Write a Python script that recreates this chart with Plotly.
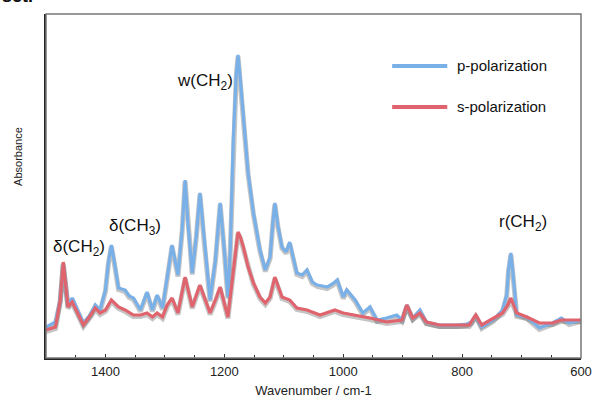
import plotly.graph_objects as go

# Wavenumbers (cm-1) and absorbance (arbitrary units)
wn_p = [1500, 1484, 1476, 1471, 1466, 1463, 1456, 1447, 1437, 1426, 1417, 1409, 1400, 1395, 1390,
        1385, 1378, 1367, 1360, 1353, 1341, 1330, 1321, 1313, 1304, 1296, 1288, 1278, 1271, 1266,
        1261, 1254, 1247, 1241, 1234, 1224, 1215, 1207, 1200, 1194, 1190, 1185, 1180, 1177, 1173,
        1168, 1160, 1151, 1140, 1131, 1123, 1118, 1115, 1110, 1103, 1096, 1090, 1085, 1078, 1069,
        1061, 1052, 1044, 1035, 1027, 1018, 1010, 1000, 994, 980, 967, 955, 943, 927, 910,
        901, 893, 883, 871, 860, 838, 809, 792, 784, 777, 767, 748, 732, 725, 722,
        718, 715, 711, 708, 691, 670, 648, 633, 620, 600]
abs_p = [31, 36, 58, 94, 68, 53, 60, 48, 35, 43, 53, 48, 68, 96, 113,
         96, 70, 68, 62, 60, 48, 66, 48, 63, 50, 81, 113, 83, 128, 178,
         133, 85, 123, 165, 118, 58, 98, 155, 108, 61, 108, 218, 283, 303, 278,
         241, 185, 145, 108, 88, 101, 138, 155, 133, 111, 106, 116, 103, 85, 83,
         88, 76, 73, 72, 71, 74, 78, 61, 68, 58, 45, 51, 38, 40, 43,
         38, 53, 40, 48, 36, 33, 33, 34, 36, 43, 31, 38, 48, 63, 88,
         105, 88, 58, 43, 41, 30, 35, 40, 35, 38]

wn_s = [1500, 1484, 1476, 1471, 1466, 1463, 1456, 1447, 1437, 1426, 1417, 1409, 1400, 1390, 1378,
        1367, 1353, 1341, 1330, 1321, 1313, 1304, 1296, 1288, 1278, 1266, 1254, 1241, 1224, 1215,
        1207, 1194, 1185, 1180, 1177, 1173, 1168, 1160, 1151, 1140, 1131, 1123, 1115, 1103, 1090,
        1078, 1061, 1039, 1014, 1000, 980, 955, 927, 901, 893, 883, 871, 860, 838, 788,
        777, 767, 732, 723, 718, 713, 708, 691, 670, 648, 633, 600]
abs_s = [28, 31, 58, 96, 68, 51, 56, 45, 33, 42, 50, 45, 48, 58, 51,
         48, 43, 43, 45, 41, 45, 41, 53, 60, 45, 81, 51, 73, 45, 58,
         71, 41, 85, 113, 126, 121, 111, 91, 75, 61, 55, 61, 81, 61, 58,
         50, 48, 43, 48, 45, 43, 40, 36, 38, 53, 40, 45, 36, 33, 33,
         43, 33, 45, 53, 60, 53, 45, 41, 35, 35, 38, 38]

series_names = ["p-polarization", "s-polarization"]
x_ticks = [1400, 1200, 1000, 800, 600]

peak_labels = ["δ(CH<sub>2</sub>)", "δ(CH<sub>3</sub>)", "w(CH<sub>2</sub>)", "r(CH<sub>2</sub>)"]
peak_wn = [1444, 1350, 1232, 698]
peak_y = [110, 131, 276, 135]

BLUE = "#7AB0E8"
RED = "#E0646E"
FONT = "Liberation Sans, Arial, sans-serif"

fig = go.Figure()

# soft shadows under the lines
for xs, ys in [(wn_p, abs_p), (wn_s, abs_s)]:
    fig.add_trace(go.Scatter(x=xs, y=[v - 1.5 for v in ys], mode="lines",
                             line=dict(color="rgba(90,90,90,0.35)", width=5),
                             showlegend=False, hoverinfo="skip"))

fig.add_trace(go.Scatter(x=wn_p, y=abs_p, mode="lines", name=series_names[0],
                         line=dict(color=BLUE, width=3.2), showlegend=False))
fig.add_trace(go.Scatter(x=wn_s, y=abs_s, mode="lines", name=series_names[1],
                         line=dict(color=RED, width=3.2), showlegend=False))

annotations = []
for lab, xv, yv in zip(peak_labels, peak_wn, peak_y):
    annotations.append(dict(x=xv, y=yv, xref="x", yref="y", text=lab, showarrow=False,
                            font=dict(family=FONT, size=17, color="#111"),
                            xanchor="center", yanchor="middle"))

# manual legend
leg_y = [0.849, 0.730]
shapes = []
for name, col, ly in zip(series_names, [BLUE, RED], leg_y):
    shapes.append(dict(type="line", xref="paper", yref="paper", x0=0.647, x1=0.750,
                       y0=ly, y1=ly, line=dict(color=col, width=4)))
    annotations.append(dict(x=0.764, y=ly, xref="paper", yref="paper", text=name,
                            showarrow=False, xanchor="left", yanchor="middle",
                            font=dict(family=FONT, size=15, color="#111")))

# Absorbance label
annotations.append(dict(x=-0.052, y=0.585, xref="paper", yref="paper", text="Absorbance",
                        textangle=-90, showarrow=False, xanchor="center", yanchor="middle",
                        font=dict(family=FONT, size=11, color="#222")))
# cropped text from the page above
annotations.append(dict(x=-0.086, y=1.0, xref="paper", yref="paper", text="<b>set.</b>",
                        showarrow=False, xanchor="left", yanchor="bottom", yshift=6,
                        font=dict(family=FONT, size=18, color="#111")))

# top/right frame in gray
shapes.append(dict(type="rect", xref="paper", yref="paper", x0=0, x1=1, y0=0, y1=1,
                   line=dict(color="#777", width=1.5), layer="above"))

fig.update_layout(
    width=592, height=409,
    margin=dict(l=46, r=11, t=14, b=51),
    paper_bgcolor="white", plot_bgcolor="white",
    annotations=annotations, shapes=shapes,
    showlegend=False,
    xaxis=dict(range=[1500, 600], tickvals=x_ticks, ticks="inside", ticklen=4,
               tickcolor="#333", tickwidth=1, automargin=False,
               minor=dict(dtick=50, ticks="inside", ticklen=3, tickcolor="#333"),
               showgrid=False, zeroline=False, showline=True, linecolor="#222", linewidth=2,
               tickfont=dict(family=FONT, size=13, color="#222"),
               title=dict(text="Wavenumber / cm-1", font=dict(family=FONT, size=13, color="#222"),
                          standoff=8)),
    yaxis=dict(range=[0, 344], showticklabels=False, ticks="", showgrid=False, zeroline=False,
               automargin=False, showline=True, linecolor="#222", linewidth=2),
)

fig.write_html("out.html")
